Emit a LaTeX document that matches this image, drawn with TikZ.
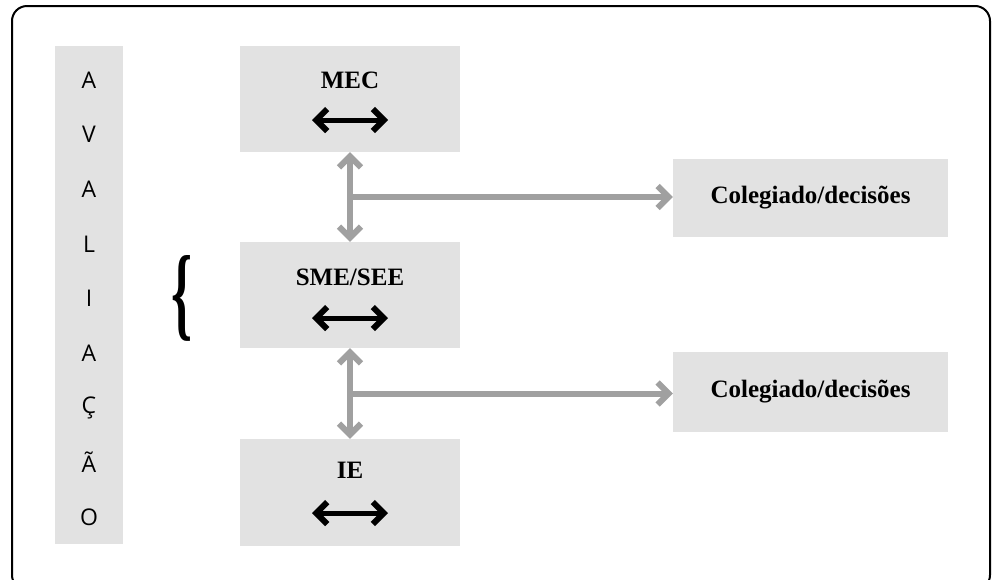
\documentclass[tikz,border=0pt]{standalone}
\usepackage{fontspec}
\usepackage{graphicx}
\setmainfont{Liberation Serif}
\newfontfamily\letterfont{Open Sans}
\usetikzlibrary{arrows.meta}

\definecolor{boxgray}{HTML}{E2E2E2}
\definecolor{arrowgray}{HTML}{A0A0A0}

\tikzset{
  box/.style={fill=boxgray,inner sep=0pt,minimum width=220pt},
  sidebox/.style={fill=boxgray,inner sep=0pt,minimum width=275pt,
    font=\fontsize{25}{30}\selectfont\bfseries},
  boxlabel/.style={font=\fontsize{25}{30}\selectfont\bfseries},
  letter/.style={font=\letterfont\fontsize{23}{27}\selectfont},
  grayarrow/.style={draw=arrowgray,line width=6pt,
    arrows={Straight Barb[length=11pt,width=22pt]-Straight Barb[length=11pt,width=22pt]}},
  blackarrow/.style={draw=black,line width=5pt,
    arrows={Straight Barb[length=11pt,width=22pt,line width=6pt]-Straight Barb[length=11pt,width=22pt,line width=6pt]}}
}

\begin{document}
\begin{tikzpicture}[x=1pt,y=-1pt]

  \useasboundingbox (0,0) rectangle (995,579);
  \draw[line width=2pt,rounded corners=15pt] (12,6) rectangle (990,590);

  % coluna da esquerda
  \fill[boxgray] (55,46) rectangle (123,544);
  \foreach \l [count=\i from 0] in {A,V,A,L,I,A,Ç,Ã,O}
    \node[letter] (l\i) at (89,{80+54.6*\i}) {\l};

  \node[inner sep=0pt] (chave) at (182,298) {\resizebox{21pt}{72pt}{\bfseries\{}};

  % caixas
  \begin{scope}[every node/.style={box}]
    \node[minimum height=106pt] (mec) at (350,99)  {};
    \node[minimum height=106pt] (sme) at (350,295) {};
    \node[minimum height=107pt] (ie)  at (350,492.5) {};
  \end{scope}

  \node[sidebox,minimum height=78pt] (col1) at (810.5,198) {Colegiado/decisões};
  \node[sidebox,minimum height=80pt] (col2) at (810.5,392) {Colegiado/decisões};

  \node[boxlabel] (meclbl) at (350,80)  {MEC};
  \node[boxlabel] (smelbl) at (350,277) {SME/SEE};
  \node[boxlabel] (ielbl)  at (350,470) {IE};

  \coordinate (mecl) at (312,120);
  \coordinate (mecr) at (388,120);
  \coordinate (smel) at (312,318);
  \coordinate (smer) at (388,318);
  \coordinate (iel)  at (312,513);
  \coordinate (ier)  at (388,513);

  \draw[blackarrow] (mecl) -- (mecr);
  \draw[blackarrow] (smel) -- (smer);
  \draw[blackarrow] (iel) -- (ier);

  % setas cinzentas
  \draw[grayarrow] (mec.south) -- coordinate (j1) (sme.north);
  \draw[grayarrow] (sme.south) -- coordinate (j2) (ie.north);
  \draw[grayarrow,arrows={-Straight Barb[length=11pt,width=22pt]}] (j1) -- (j1 -| col1.west);
  \draw[grayarrow,arrows={-Straight Barb[length=11pt,width=22pt]}] (j2) -- (j2 -| col2.west);

\end{tikzpicture}
\end{document}
